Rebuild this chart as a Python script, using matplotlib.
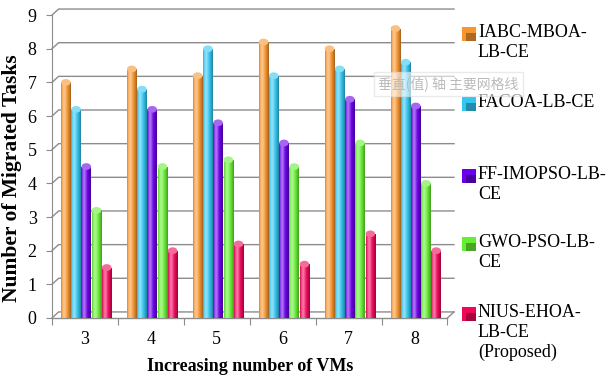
import numpy as np
import matplotlib
matplotlib.use("Agg")
import matplotlib.pyplot as plt
from matplotlib.patches import Ellipse, Rectangle
from matplotlib.colors import to_rgb

# data
vms = ["3", "4", "5", "6", "7", "8"]
series_names = [
    "IABC-MBOA-\nLB-CE",
    "FACOA-LB-CE",
    "FF-IMOPSO-LB-\nCE",
    "GWO-PSO-LB-\nCE",
    "NIUS-EHOA-\nLB-CE\n(Proposed)",
]
iabc = [7.0, 7.4, 7.2, 8.2, 8.0, 8.6]
facoa = [6.2, 6.8, 8.0, 7.2, 7.4, 7.6]
ff_imopso = [4.5, 6.2, 5.8, 5.2, 6.5, 6.3]
gwo_pso = [3.2, 4.5, 4.7, 4.5, 5.2, 4.0]
nius = [1.5, 2.0, 2.2, 1.6, 2.5, 2.0]
yticks = list(range(0, 10))

colors = ["#F7962F", "#33C6F0", "#6A00E8", "#66EE33", "#F0075A"]
all_series = [iabc, facoa, ff_imopso, gwo_pso, nius]

plt.rcParams["font.family"] = ["Liberation Serif", "DejaVu Serif"]

W, H = 612, 378
fig = plt.figure(figsize=(W / 100, H / 100), dpi=100)
ax = fig.add_axes([52 / W, 60 / H, 402 / W, 313 / H])
ax.set_xlim(-0.5, 5.6)
ax.set_ylim(0, 9.3)

grid_c = "#8C8C8C"
dx, dv = 0.1, 0.18


def shade(col):
    # horizontal cylinder shading
    base = np.array(to_rgb(col))
    t = np.linspace(0, 1, 40)
    light = np.exp(-((t - 0.32) / 0.22) ** 2) * 0.45
    dark = np.clip((t - 0.55) / 0.45, 0, 1) ** 1.5 * 0.35 + np.clip((0.1 - t) / 0.1, 0, 1) * 0.15
    rgb = base[None, :] * (1 - light[:, None]) + light[:, None]
    rgb = rgb * (1 - dark[:, None])
    return rgb[None, :, :]


# gridlines with a small depth slant
for v in yticks:
    ax.plot([-0.5, -0.5 + dx, 5.6], [v, v + dv, v + dv], color=grid_c, lw=1.0,
            clip_on=False, zorder=1)
ax.plot([-0.5, 5.5], [0, 0], color=grid_c, lw=1.0, clip_on=False, zorder=1)
ax.plot([5.5, 5.6], [0, dv], color=grid_c, lw=1.0, clip_on=False, zorder=1)

bw = 0.145
step = 0.155
offs = (np.arange(5) - 2) * step + 0.02
for k, vals in enumerate(all_series):
    img = shade(colors[k])
    for i, v in enumerate(vals):
        xl = i + offs[k] - bw / 2
        rect = Rectangle((xl, 0), bw, v, facecolor="none", edgecolor="none", zorder=3)
        ax.add_patch(rect)
        im = ax.imshow(img, extent=[xl, xl + bw, 0, v], aspect="auto", zorder=3,
                       interpolation="bilinear")
        im.set_clip_path(rect)
        cap_c = np.array(to_rgb(colors[k])) * 0.6 + 0.4
        ax.add_patch(Ellipse((xl + bw / 2, v), bw, 0.2, facecolor=cap_c,
                             edgecolor="none", zorder=4))
        ax.add_patch(Ellipse((xl + bw / 2, 0), bw, 0.12, facecolor=img[0, 20],
                             edgecolor="none", zorder=2))

ax.set_xlim(-0.5, 5.6)
ax.set_ylim(0, 9.3)

for s in ["top", "right", "bottom"]:
    ax.spines[s].set_visible(False)
ax.spines["left"].set_bounds(0, 9)
ax.spines["left"].set_color(grid_c)

ax.set_yticks(yticks)
ax.set_yticklabels([str(v) for v in yticks], fontsize=13)
ax.tick_params(axis="y", length=4, color=grid_c, pad=7)

ax.set_xticks(np.arange(-0.5, 6, 1.0), minor=False)
ax.set_xticklabels([])
ax.tick_params(axis="x", direction="out", length=5, color=grid_c)
for i, lab in enumerate(vms):
    ax.text(i, -0.65, lab, ha="center", va="center", fontsize=13)

ax.text(2.5, -1.45, "Increasing number of VMs", ha="center", va="center",
        fontsize=13, fontweight="bold")
fig.text(12 / W, 1 - 178 / H, "Number of Migrated Tasks", rotation=90, ha="center",
         va="center", fontsize=15.5, fontweight="bold")

# legend on the right
leg_y = [34, 104, 176, 244, 314]
for k, name in enumerate(series_names):
    yc = 1 - leg_y[k] / H
    fig.patches.append(Rectangle((462 / W, yc - 7 / H), 14 / W, 14 / H,
                                 transform=fig.transFigure, facecolor=colors[k],
                                 edgecolor="none"))
    fig.patches.append(Rectangle((466 / W, yc - 7 / H), 10 / W, 8 / H,
                                 transform=fig.transFigure,
                                 facecolor=np.array(to_rgb(colors[k])) * 0.7,
                                 edgecolor="none"))
    fig.text(478 / W, yc + 10 / H, name, ha="left", va="top", fontsize=13,
             linespacing=1.2)

# faint tooltip left in the screenshot
fig.text(378 / W, 1 - 84 / H, "垂直(值) 轴 主要网格线", fontsize=10, color="#BBBBBB",
         family=["Noto Sans CJK SC", "DejaVu Sans"], ha="left", va="center",
         bbox=dict(boxstyle="square,pad=0.3", facecolor="white", alpha=0.6,
                   edgecolor="#DDDDDD"))

fig.savefig("out.png", dpi=100)
